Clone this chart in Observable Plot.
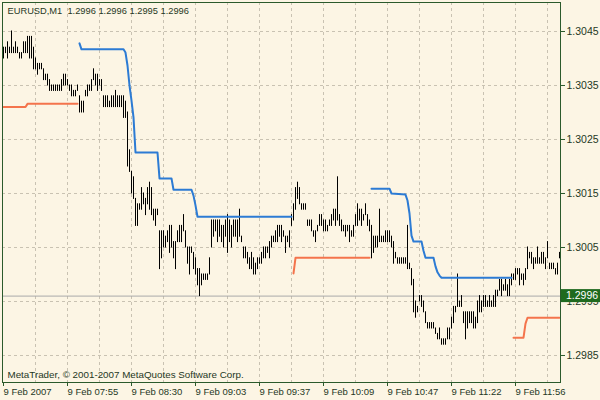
<!DOCTYPE html>
<html><head><meta charset="utf-8">
<script src="https://cdn.jsdelivr.net/npm/d3@7"></script>
<script src="https://cdn.jsdelivr.net/npm/@observablehq/plot@0.6"></script>
<style>
html,body{margin:0;padding:0;background:#fcf5e4;}
</style></head><body><div id="chart"></div>
<script>
const symbol = "EURUSD";
const timeframe = "M1";
const lastOHLC = [1.2996, 1.2996, 1.2995, 1.2996];
const copyright = "MetaTrader, © 2001-2007 MetaQuotes Software Corp.";

const priceTicks = [1.2985, 1.2995, 1.3005, 1.3015, 1.3025, 1.3035, 1.3045];
const timeTickIdx = [0, 32, 64, 96, 128, 160, 192, 224, 256];
const timeLabels = ["9 Feb 2007", "9 Feb 07:55", "9 Feb 08:30", "9 Feb 09:03", "9 Feb 09:37", "9 Feb 10:09", "9 Feb 10:47", "9 Feb 11:22", "9 Feb 11:56"];

const barHigh = [
1.3042,1.3042,1.3043,1.3042,1.3045,1.3042,1.3043,1.3042,1.3041,1.3041,
1.3043,1.3043,1.3044,1.3044,1.3044,1.3042,1.3040,1.3039,1.3039,1.3039,
1.3038,1.3037,1.3037,1.3036,1.3035,1.3035,1.3035,1.3035,1.3035,1.3036,
1.3037,1.3037,1.3036,1.3035,1.3035,1.3034,1.3034,1.3035,1.3033,1.3032,
1.3032,1.3034,1.3035,1.3035,1.3036,1.3038,1.3037,1.3037,1.3036,1.3036,
1.3033,1.3033,1.3033,1.3032,1.3033,1.3033,1.3034,1.3033,1.3033,1.3033,
1.3033,1.3032,1.3030,1.3023,1.3019,1.3018,1.3014,1.3013,1.3013,1.3016,
1.3015,1.3014,1.3016,1.3017,1.3016,1.3012,1.3012,1.3012,1.3008,1.3008,
1.3008,1.3007,1.3008,1.3009,1.3009,1.3006,1.3006,1.3008,1.3009,1.3009,
1.3011,1.3008,1.3005,1.3005,1.3005,1.3004,1.3003,1.3001,1.3001,1.3000,
1.3000,1.3000,1.3000,1.3003,1.3010,1.3010,1.3010,1.3010,1.3010,1.3009,
1.3009,1.3010,1.3011,1.3010,1.3009,1.3010,1.3010,1.3010,1.3012,1.3007,
1.3005,1.3005,1.3004,1.3003,1.3004,1.3003,1.3002,1.3003,1.3003,1.3004,
1.3005,1.3005,1.3005,1.3006,1.3007,1.3007,1.3008,1.3009,1.3009,1.3009,
1.3008,1.3007,1.3007,1.3008,1.3011,1.3013,1.3016,1.3017,1.3016,1.3013,
1.3013,1.3013,1.3010,1.3010,1.3010,1.3008,1.3008,1.3009,1.3011,1.3011,
1.3010,1.3010,1.3009,1.3010,1.3011,1.3012,1.3012,1.3018,1.3011,1.3010,
1.3009,1.3009,1.3009,1.3009,1.3008,1.3009,1.3011,1.3013,1.3012,1.3012,
1.3011,1.3013,1.3011,1.3010,1.3009,1.3007,1.3007,1.3007,1.3012,1.3007,
1.3007,1.3008,1.3008,1.3008,1.3007,1.3006,1.3004,1.3003,1.3003,1.3003,
1.3003,1.3003,1.3009,1.3002,1.3001,1.2999,1.2995,1.2994,1.2996,1.2996,
1.2995,1.2993,1.2991,1.2991,1.2991,1.2991,1.2990,1.2989,1.2990,1.2988,
1.2988,1.2988,1.2990,1.2990,1.2992,1.2994,1.2994,1.3000,1.2995,1.2996,
1.2993,1.2993,1.2993,1.2993,1.2993,1.2993,1.2992,1.2995,1.2996,1.2995,
1.2996,1.2996,1.2995,1.2996,1.2995,1.2996,1.2997,1.2997,1.2999,1.2999,
1.2998,1.2999,1.2998,1.2999,1.3000,1.3000,1.3001,1.3001,1.3001,1.3000,
1.3000,1.3001,1.3005,1.3004,1.3004,1.3003,1.3003,1.3005,1.3003,1.3004,
1.3004,1.3003,1.3006,1.3002,1.3002,1.3002,1.3001,1.3002,1.3004
];
const barLow = [
1.3040,1.3041,1.3040,1.3041,1.3041,1.3041,1.3041,1.3041,1.3040,1.3040,
1.3041,1.3041,1.3041,1.3040,1.3040,1.3038,1.3038,1.3037,1.3038,1.3038,
1.3036,1.3036,1.3035,1.3034,1.3034,1.3034,1.3034,1.3034,1.3034,1.3034,
1.3035,1.3035,1.3035,1.3034,1.3033,1.3033,1.3033,1.3034,1.3030,1.3030,
1.3030,1.3033,1.3033,1.3034,1.3034,1.3036,1.3035,1.3034,1.3035,1.3034,
1.3031,1.3031,1.3031,1.3031,1.3031,1.3031,1.3031,1.3031,1.3031,1.3031,
1.3029,1.3029,1.3020,1.3019,1.3015,1.3014,1.3009,1.3009,1.3012,1.3012,
1.3013,1.3011,1.3013,1.3012,1.3011,1.3010,1.3009,1.3011,1.3001,1.3003,
1.3005,1.3005,1.3006,1.3004,1.3005,1.3003,1.3001,1.3006,1.3006,1.3006,
1.3008,1.3005,1.3002,1.3000,1.3004,1.3001,1.3000,1.2998,1.2996,1.2998,
1.2999,1.2999,1.2999,1.3000,1.3005,1.3007,1.3008,1.3006,1.3007,1.3006,
1.3005,1.3007,1.3004,1.3006,1.3005,1.3007,1.3007,1.3006,1.3007,1.3006,
1.3003,1.3003,1.3002,1.3001,1.3001,1.3000,1.3000,1.3001,1.3002,1.3002,
1.3003,1.3003,1.3004,1.3003,1.3005,1.3006,1.3006,1.3006,1.3007,1.3006,
1.3007,1.3004,1.3006,1.3005,1.3009,1.3010,1.3012,1.3014,1.3013,1.3012,
1.3012,1.3012,1.3009,1.3009,1.3008,1.3007,1.3006,1.3008,1.3009,1.3009,
1.3008,1.3008,1.3008,1.3009,1.3009,1.3010,1.3009,1.3010,1.3009,1.3008,
1.3008,1.3007,1.3008,1.3006,1.3007,1.3007,1.3009,1.3009,1.3010,1.3009,
1.3010,1.3011,1.3009,1.3008,1.3003,1.3004,1.3005,1.3005,1.3006,1.3006,
1.3006,1.3006,1.3006,1.3006,1.3005,1.3002,1.3003,1.3002,1.3002,1.3002,
1.3002,1.3002,1.3001,1.3001,1.2998,1.2993,1.2992,1.2993,1.2995,1.2994,
1.2993,1.2991,1.2990,1.2990,1.2990,1.2990,1.2989,1.2988,1.2988,1.2987,
1.2987,1.2987,1.2988,1.2988,1.2990,1.2991,1.2993,1.2994,1.2994,1.2994,
1.2991,1.2988,1.2990,1.2991,1.2991,1.2990,1.2990,1.2991,1.2993,1.2993,
1.2994,1.2994,1.2994,1.2994,1.2994,1.2994,1.2994,1.2996,1.2997,1.2996,
1.2997,1.2997,1.2996,1.2996,1.2998,1.2999,1.2999,1.3000,1.2998,1.2999,
1.2998,1.2999,1.3001,1.3003,1.3002,1.3001,1.3002,1.3002,1.3002,1.3002,
1.3002,1.3001,1.3003,1.3001,1.3001,1.3001,1.3000,1.3000,1.3003
];

// indicator lines: vertices [bar index, value]; null separates segments
const blueLine = [
[38,1.30428],[39,1.30417],[60,1.30417],[61,1.30411],[62,1.30387],[63,1.30350],[64,1.30322],[65,1.30291],
[66,1.30226],[77,1.30226],[78,1.30178],[84,1.30178],[85,1.30157],[94,1.30157],[95,1.30146],[96,1.30128],
[97,1.30107],[144,1.30107],
[144.5,null],
[184,1.30159],[193,1.30159],[194,1.30150],[201,1.30148],[202,1.30137],[203,1.30113],[204,1.30072],
[205,1.30061],[209,1.30061],[210,1.30044],[211,1.30031],[215,1.30031],[216,1.30015],[217,1.30004],
[218,1.29998],[219,1.29994],[254,1.29994]
];
const orangeLine = [
[0,1.30310],[11,1.30310],[12,1.30316],[37,1.30316],
[37.5,null],
[145,1.30002],[146,1.30031],[183,1.30031],
[183.5,null],
[255,1.29883],[260,1.29883],[261,1.29909],[262,1.29920],[278,1.29920]
];

const bg = "#fcf5e4", fg = "#1f381f", gridColor = "#c9c2b2", frameColor = "#2b5a2b";
const bars = barHigh.map((h, i) => ({i, high: h, low: barLow[i]}));
const nBars = barHigh.length;
const gridIdx = d3.range(16, nBars, 16);
const lastClose = lastOHLC[3];
const fmt = d3.format(".4f");
const title = `${symbol},${timeframe}\u00a0\u00a0${lastOHLC.map(fmt).join(" ")}`;
const font = "'Liberation Sans', Arial, sans-serif";

const chart = Plot.plot({
  width: 600, height: 400,
  marginLeft: 2, marginRight: 40, marginTop: 2, marginBottom: 18,
  style: {background: bg, fontFamily: font, fontSize: "9.5px", color: fg},
  x: {type: "linear", domain: [-0.5, nBars - 0.5], axis: null, label: null},
  y: {type: "linear", domain: [1.2980, 1.305037], axis: null, label: null},
  marks: [
    Plot.ruleY(priceTicks, {stroke: gridColor, strokeDasharray: "3,3"}),
    Plot.ruleX(gridIdx, {stroke: gridColor, strokeDasharray: "3,3"}),
    Plot.ruleY([lastClose], {stroke: "#a9a9a9"}),
    Plot.ruleX(bars, {x: "i", y1: "low", y2: "high", stroke: "#000", strokeLinecap: "square"}),
    Plot.line(blueLine, {x: d => d[0], y: d => d[1], stroke: "#2c7bd4", strokeWidth: 2}),
    Plot.line(orangeLine, {x: d => d[0], y: d => d[1], stroke: "#f4744c", strokeWidth: 2}),
    Plot.frame({stroke: frameColor}),
    Plot.axisY(priceTicks, {anchor: "right", tickSize: 4, tickPadding: 2, tickFormat: fmt, stroke: frameColor,
      fontSize: 10.5, label: null}),
    Plot.axisX(timeTickIdx, {anchor: "bottom", tickSize: 4, tickPadding: 2, textAnchor: "start", label: null,
      tickFormat: d => timeLabels[timeTickIdx.indexOf(d)], stroke: frameColor}),
    Plot.text([title], {frameAnchor: "top-left", dx: 5, dy: 5, lineAnchor: "top", textAnchor: "start", fill: fg, fontSize: 9.3}),
    Plot.text([copyright], {frameAnchor: "bottom-left", dx: 5, dy: -5, lineAnchor: "bottom", textAnchor: "start", fill: fg, fontSize: 9.8})
  ]
});

// current price label in the right margin, positioned with the y scale
const yPos = chart.scale("y").apply(lastClose);
const svg = d3.select(chart);
svg.append("rect").attr("x", 561).attr("y", yPos - 6.5).attr("width", 39).attr("height", 13).attr("fill", "#1f6a1f");
svg.append("text").attr("x", 566).attr("y", yPos).attr("dy", "0.35em").attr("fill", "#fff")
  .attr("text-anchor", "start").attr("font-family", font).attr("font-size", "10.5px").text(fmt(lastClose));

document.getElementById("chart").append(chart);
</script>
</body></html>
